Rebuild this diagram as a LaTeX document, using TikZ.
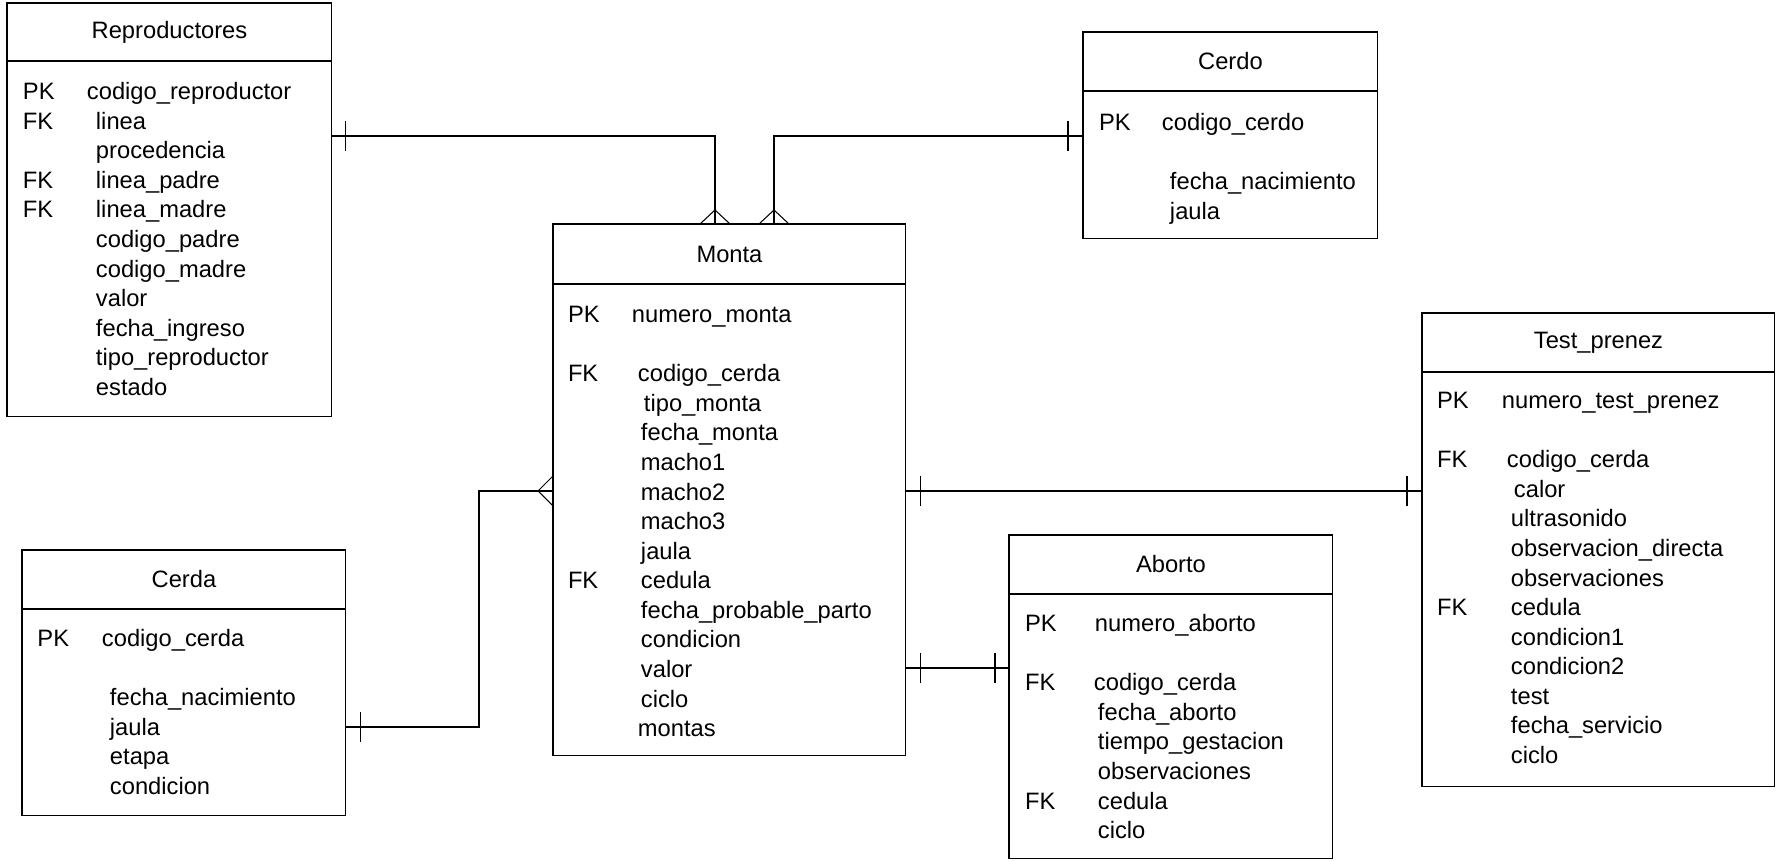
\documentclass[tikz,border=0pt]{standalone}
\usepackage{fontspec}
\setmainfont{Liberation Sans}
\usetikzlibrary{positioning,calc}

\begin{document}
\begin{tikzpicture}[x=0.02cm, y=-0.02cm, line width=0.6pt,
  every node/.style={font=\fontsize{13.5}{16.84}\selectfont, outer sep=0pt},
  enthead/.style={draw, rectangle, inner sep=0pt},
  entbody/.style={draw, rectangle, inner sep=0pt},
  entrows/.style={inner sep=0pt, anchor=base west},
  crowtop/.pic={\draw (-15,0) -- (0,-14) -- (15,0);},
  crowleft/.pic={\draw (0,-15) -- (-15,0) -- (0,15);},
  onebar/.pic={\draw (0,-15) -- (0,15);}]
  \useasboundingbox (0,0) rectangle (1776,861);

  % entidades
  \node[enthead, minimum width=6.5cm, minimum height=1.16cm, anchor=north west] (reprohd) at (7,3) {Reproductores};
  \node[entbody, minimum width=6.5cm, minimum height=7.12cm, below=0pt of reprohd] (repro) {};
  \node[entrows] (reprotx) at (23,99.5) {\begin{tabular}[t]{@{}p{1.46cm}@{}l@{}}
    PK & \hspace{-0.18cm}codigo\_reproductor \\
    FK & linea \\
       & procedencia \\
    FK & linea\_padre \\
    FK & linea\_madre \\
       & codigo\_padre \\
       & codigo\_madre \\
       & valor \\
       & fecha\_ingreso \\
       & tipo\_reproductor \\
       & estado
  \end{tabular}};

  \node[enthead, minimum width=5.9cm, minimum height=1.18cm, anchor=north west] (cerdohd) at (1083,32) {Cerdo};
  \node[entbody, minimum width=5.9cm, minimum height=2.96cm, below=0pt of cerdohd] (cerdo) {};
  \node[entrows] (cerdotx) at (1099,130.5) {\begin{tabular}[t]{@{}p{1.42cm}@{}l@{}}
    PK & \hspace{-0.16cm}codigo\_cerdo \\
       & \\
       & fecha\_nacimiento \\
       & jaula
  \end{tabular}};

  \node[enthead, minimum width=7.06cm, minimum height=1.2cm, anchor=north west] (montahd) at (553,224) {Monta};
  \node[entbody, minimum width=7.06cm, minimum height=9.44cm, below=0pt of montahd] (monta) {};
  \node[entrows] (montatx) at (568,322.5) {\begin{tabular}[t]{@{}p{1.46cm}@{}l@{}}
    PK & \hspace{-0.18cm}numero\_monta \\
       & \\
    FK & \hspace{-0.06cm}codigo\_cerda \\
       & \hspace{0.06cm}tipo\_monta \\
       & fecha\_monta \\
       & macho1 \\
       & macho2 \\
       & macho3 \\
       & jaula \\
    FK & cedula \\
       & fecha\_probable\_parto \\
       & condicion \\
       & valor \\
       & ciclo \\
       & \hspace{-0.06cm}montas
  \end{tabular}};

  \node[enthead, minimum width=6.48cm, minimum height=1.18cm, anchor=north west] (cerdahd) at (22,550) {Cerda};
  \node[entbody, minimum width=6.48cm, minimum height=4.14cm, below=0pt of cerdahd] (cerda) {};
  \node[entrows] (cerdatx) at (37.5,646.5) {\begin{tabular}[t]{@{}p{1.45cm}@{}l@{}}
    PK & \hspace{-0.16cm}codigo\_cerda \\
       & \\
       & fecha\_nacimiento \\
       & jaula \\
       & etapa \\
       & condicion
  \end{tabular}};

  \node[enthead, minimum width=6.48cm, minimum height=1.18cm, anchor=north west] (abortohd) at (1009,535) {Aborto};
  \node[entbody, minimum width=6.48cm, minimum height=5.3cm, below=0pt of abortohd] (aborto) {};
  \node[entrows] (abortotx) at (1025,631.5) {\begin{tabular}[t]{@{}p{1.46cm}@{}l@{}}
    PK & \hspace{-0.06cm}numero\_aborto \\
       & \\
    FK & \hspace{-0.08cm}codigo\_cerda \\
       & fecha\_aborto \\
       & tiempo\_gestacion \\
       & observaciones \\
    FK & cedula \\
       & ciclo
  \end{tabular}};

  \node[enthead, minimum width=7.06cm, minimum height=1.18cm, anchor=north west] (testhd) at (1422,313) {Test\_prenez};
  \node[entbody, minimum width=7.06cm, minimum height=8.3cm, below=0pt of testhd] (test) {};
  \node[entrows] (testtx) at (1437,408.5) {\begin{tabular}[t]{@{}p{1.48cm}@{}l@{}}
    PK & \hspace{-0.18cm}numero\_test\_prenez \\
       & \\
    FK & \hspace{-0.08cm}codigo\_cerda \\
       & \hspace{0.06cm}calor \\
       & ultrasonido \\
       & observacion\_directa \\
       & observaciones \\
    FK & cedula \\
       & condicion1 \\
       & condicion2 \\
       & test \\
       & fecha\_servicio \\
       & ciclo
  \end{tabular}};

  % relaciones
  \coordinate (rm) at (715,136);
  \coordinate (cm) at (774,136);
  \coordinate (ca) at (479,727);
  \coordinate (cb) at (479,491);
  \coordinate (ma) at (950,668);
  \draw (repro.east |- rm) -- (rm) -- (montahd.north -| rm);
  \draw (cerdo.west |- cm) -- (cm) -- (montahd.north -| cm);
  \draw (cerda.east |- ca) -- (ca) -- (cb) -- (monta.west |- cb);
  \draw (monta.east |- cb) -- (test.west |- cb);
  \draw (monta.east |- ma) -- (aborto.west |- ma);

  \pic at (montahd.north -| rm) {crowtop};
  \pic at (montahd.north -| cm) {crowtop};
  \pic at (monta.west |- cb) {crowleft};
  \pic at ($(repro.east |- rm)+(14,0)$) {onebar};
  \pic at ($(cerdo.west |- cm)+(-15,0)$) {onebar};
  \pic at ($(cerda.east |- ca)+(15,0)$) {onebar};
  \pic at ($(monta.east |- cb)+(15,0)$) {onebar};
  \pic at ($(test.west |- cb)+(-15,0)$) {onebar};
  \pic at ($(monta.east |- ma)+(15,0)$) {onebar};
  \pic at ($(aborto.west |- ma)+(-14,0)$) {onebar};
\end{tikzpicture}
\end{document}
